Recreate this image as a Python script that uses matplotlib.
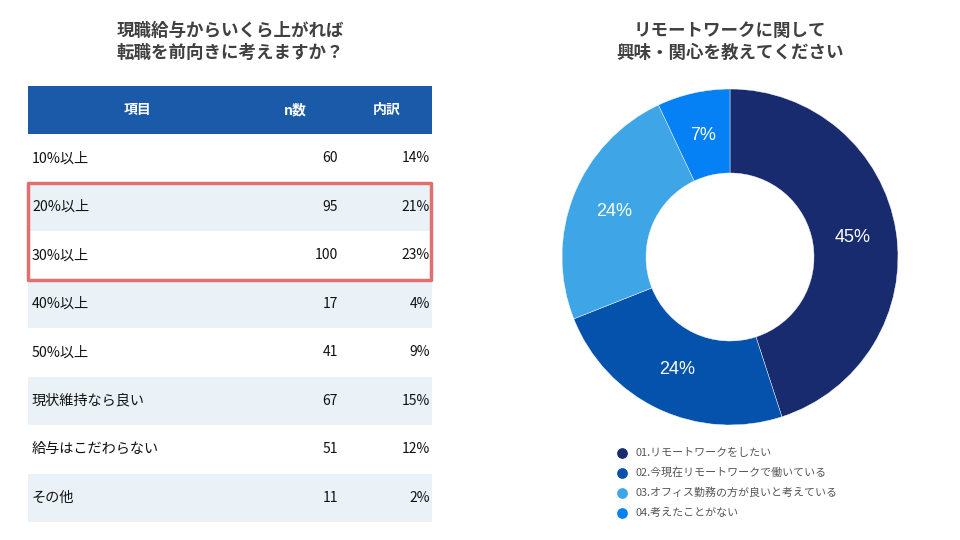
import matplotlib
matplotlib.use("Agg")
import matplotlib.pyplot as plt
from matplotlib.patches import Rectangle
import numpy as np

plt.rcParams["font.family"] = ["Noto Sans CJK JP", "DejaVu Sans"]

# Left: table data
left_title = "現職給与からいくら上がれば\n転職を前向きに考えますか？"
col_headers = ["項目", "n数", "内訳"]
items = ["10%以上", "20%以上", "30%以上", "40%以上", "50%以上",
         "現状維持なら良い", "給与はこだわらない", "その他"]
counts = [60, 95, 100, 17, 41, 67, 51, 11]
shares = ["14%", "21%", "23%", "4%", "9%", "15%", "12%", "2%"]
highlight_rows = [1, 2]

# Right: donut data
right_title = "リモートワークに関して\n興味・関心を教えてください"
donut_labels = ["01.リモートワークをしたい", "02.今現在リモートワークで働いている",
                "03.オフィス勤務の方が良いと考えている", "04.考えたことがない"]
donut_values = [45, 24, 24, 7]
donut_colors = ["#172b6e", "#0452ab", "#3ea5e6", "#0580f5"]

fig = plt.figure(figsize=(9.6, 5.4), dpi=100)
fig.patch.set_facecolor("white")

# Table drawn in a pixel-coordinate axes
ax = fig.add_axes([0, 0, 1, 1])
ax.set_xlim(0, 960)
ax.set_ylim(540, 0)
ax.axis("off")

ax.text(230, 42, left_title, ha="center", va="center", fontsize=12.6,
        fontweight="bold", color="#404040", linespacing=1.25)

x0, x1 = 28, 432
header_top, header_h, row_h = 86, 48, 48.5
ax.add_patch(Rectangle((x0, header_top), x1 - x0, header_h, color="#1a5aa8", lw=0))
hy = header_top + header_h / 2
for txt, hx in zip(col_headers, [138, 295, 387]):
    ax.text(hx, hy, txt, ha="center", va="center", color="white",
            fontsize=10, fontweight="bold")

for i, (name, n, s) in enumerate(zip(items, counts, shares)):
    top = header_top + header_h + i * row_h
    if i % 2 == 1:
        ax.add_patch(Rectangle((x0, top), x1 - x0, row_h, color="#eaf2f8", lw=0))
    cy = top + row_h / 2
    ax.text(32, cy, name, ha="left", va="center", fontsize=10.2, color="#111111")
    ax.text(338, cy, str(n), ha="right", va="center", fontsize=10, color="#111111")
    ax.text(430, cy, s, ha="right", va="center", fontsize=10, color="#111111")

hl_top = header_top + header_h + highlight_rows[0] * row_h
hl_h = len(highlight_rows) * row_h
ax.add_patch(Rectangle((x0, hl_top), x1 - x0 - 1, hl_h, fill=False,
                       edgecolor="#e07070", lw=2.5, joinstyle="round"))

ax.text(730, 42, right_title, ha="center", va="center", fontsize=12.6,
        fontweight="bold", color="#404040", linespacing=1.25)

# Donut
size = 336
cx, cy = 730, 257
pax = fig.add_axes([(cx - size / 2) / 960, (540 - cy - size / 2) / 540,
                    size / 960, size / 540])
wedges, _ = pax.pie(donut_values, colors=donut_colors, startangle=90,
                    counterclock=False, radius=1,
                    wedgeprops=dict(width=0.5, edgecolor="white", linewidth=0.3))
pax.set_xlim(-1, 1)
pax.set_ylim(-1, 1)
pax.set_aspect("equal")
cum = 0
for v in donut_values:
    mid = 90 - (cum + v / 2) * 3.6
    r = 0.74
    pax.text(r * np.cos(np.radians(mid)), r * np.sin(np.radians(mid)), f"{v}%",
             ha="center", va="center", color="white", fontsize=13,
             family=["Liberation Sans", "DejaVu Sans"])
    cum += v

# Legend
for k, (lab, col) in enumerate(zip(donut_labels, donut_colors)):
    ly = 453 + k * 20
    ax.scatter([622], [ly], s=45, color=col, zorder=3)
    ax.text(636, ly, lab, ha="left", va="center", fontsize=7.9, color="#555555")

fig.savefig("out.png", dpi=100)
